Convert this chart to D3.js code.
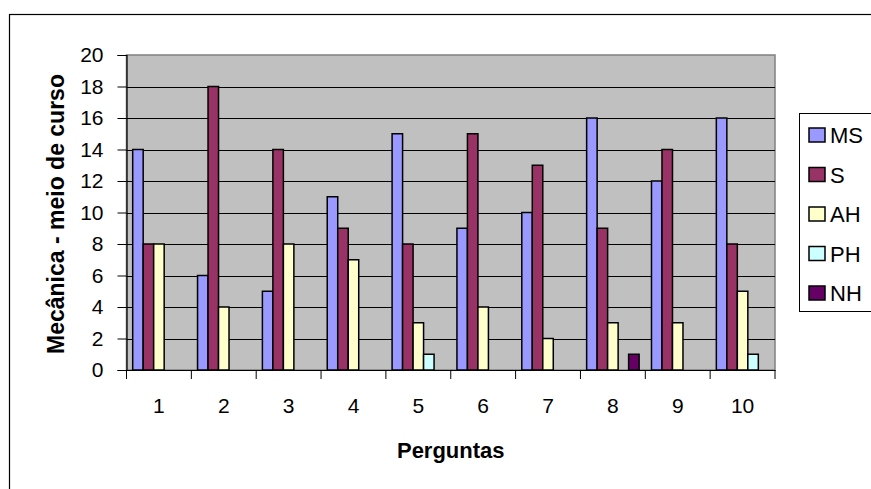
<!DOCTYPE html>
<html>
<head>
<meta charset="utf-8">
<script src="https://cdn.jsdelivr.net/npm/d3@7"></script>
<style>
  body { margin: 0; background: #fff; }
  text { font-family: "Liberation Sans", Arial, sans-serif; }
</style>
</head>
<body>
<div id="chart"></div>
<script>
// Data
const perguntas = ["1", "2", "3", "4", "5", "6", "7", "8", "9", "10"];
const seriesNames = ["MS", "S", "AH", "PH", "NH"];
const MS = [14, 6, 5, 11, 15, 9, 10, 16, 12, 16];
const S  = [8, 18, 14, 9, 8, 15, 13, 9, 14, 8];
const AH = [8, 4, 8, 7, 3, 4, 2, 3, 3, 5];
const PH = [0, 0, 0, 0, 1, 0, 0, 0, 0, 1];
const NH = [0, 0, 0, 0, 0, 0, 0, 1, 0, 0];
const yTicks = [0, 2, 4, 6, 8, 10, 12, 14, 16, 18, 20];

const seriesValues = [MS, S, AH, PH, NH];
const colors = ["#9999FF", "#993366", "#FFFFCC", "#CCFFFF", "#660066"];

const W = 871, H = 489;
const plot = { left: 126.5, right: 775, top: 55, bottom: 370 };

const svg = d3.select("#chart")
    .append("svg")
    .attr("width", W)
    .attr("height", H);

// outer chart frame
svg.append("rect")
    .attr("x", 9.5).attr("y", 14.5)
    .attr("width", W).attr("height", H)
    .attr("fill", "none")
    .attr("stroke", "#000")
    .attr("stroke-width", 1.2);

// scales
const x = d3.scaleBand()
    .domain(perguntas)
    .range([plot.left, plot.right])
    .paddingInner(0).paddingOuter(0);

const y = d3.scaleLinear()
    .domain([0, 20])
    .range([plot.bottom, plot.top]);

const gapRatio = 1.18;
const barW = x.bandwidth() / (seriesNames.length + gapRatio);
const xInner = d3.scaleBand()
    .domain(seriesNames)
    .range([barW * gapRatio / 2, barW * gapRatio / 2 + barW * seriesNames.length]);

// plot background
svg.append("rect")
    .attr("x", plot.left).attr("y", plot.top)
    .attr("width", plot.right - plot.left)
    .attr("height", plot.bottom - plot.top)
    .attr("fill", "#C0C0C0")
    .attr("stroke", "#808080")
    .attr("stroke-width", 1.5);

// gridlines
svg.append("g")
    .selectAll("line")
    .data(yTicks.filter(t => t > 0 && t < 20))
    .join("line")
    .attr("x1", plot.left).attr("x2", plot.right)
    .attr("y1", d => Math.round(y(d)) + 0.5)
    .attr("y2", d => Math.round(y(d)) + 0.5)
    .attr("stroke", "#000")
    .attr("stroke-width", 1.2);

// bars
const rows = perguntas.map((p, i) => ({ p, vals: seriesNames.map((s, j) => ({ s, j, v: seriesValues[j][i] })) }));

svg.append("g")
    .selectAll("g")
    .data(rows)
    .join("g")
    .attr("transform", d => `translate(${x(d.p)},0)`)
    .selectAll("rect")
    .data(d => d.vals.filter(b => b.v > 0))
    .join("rect")
    .attr("x", d => xInner(d.s))
    .attr("y", d => y(d.v))
    .attr("width", xInner.bandwidth())
    .attr("height", d => y(0) - y(d.v))
    .attr("fill", d => colors[d.j])
    .attr("stroke", "#000")
    .attr("stroke-width", 1.5);

// y axis
const yAxis = svg.append("g")
    .attr("transform", `translate(${plot.left},0)`)
    .call(d3.axisLeft(y).tickValues(yTicks).tickSize(9).tickPadding(14));
yAxis.select(".domain").attr("stroke", "#000").attr("stroke-width", 1.2);
yAxis.selectAll(".tick line").attr("stroke", "#000");
yAxis.selectAll("text")
    .attr("font-size", 21)
    .attr("fill", "#000")
    .attr("font-family", "Liberation Sans, Arial, sans-serif");

// x axis
const xAxis = svg.append("g")
    .attr("transform", `translate(0,${plot.bottom})`)
    .call(d3.axisBottom(x).tickSize(0).tickPadding(28));
xAxis.select(".domain").attr("stroke", "#000").attr("stroke-width", 1.2);
xAxis.selectAll("text")
    .attr("font-size", 21)
    .attr("fill", "#000")
    .attr("font-family", "Liberation Sans, Arial, sans-serif");

// category boundary ticks
svg.append("g")
    .selectAll("line")
    .data(perguntas.concat(["end"]))
    .join("line")
    .attr("x1", d => d === "end" ? plot.right : x(d))
    .attr("x2", d => d === "end" ? plot.right : x(d))
    .attr("y1", plot.bottom)
    .attr("y2", plot.bottom + 9)
    .attr("stroke", "#000");

// axis titles
svg.append("text")
    .attr("x", (plot.left + plot.right) / 2)
    .attr("y", 458)
    .style("text-anchor", "middle")
    .attr("font-weight", "bold")
    .attr("font-size", 22)
    .text("Perguntas");

svg.append("text")
    .attr("transform", `translate(64,214) rotate(-90)`)
    .style("text-anchor", "middle")
    .attr("font-weight", "bold")
    .attr("font-size", 23)
    .text("Mecânica - meio de curso");

// legend
const legend = svg.append("g");
legend.append("rect")
    .attr("x", 799.5).attr("y", 113.5)
    .attr("width", 80).attr("height", 198)
    .attr("fill", "#fff")
    .attr("stroke", "#000");

const items = legend.selectAll("g.item")
    .data(seriesNames)
    .join("g")
    .attr("class", "item")
    .attr("transform", (d, i) => `translate(809,${135 + i * 39.5})`);

items.append("rect")
    .attr("x", 0).attr("y", -7)
    .attr("width", 16).attr("height", 14)
    .attr("fill", (d, i) => colors[i])
    .attr("stroke", "#000")
    .attr("stroke-width", 1.5);

items.append("text")
    .attr("x", 21).attr("y", 8)
    .attr("font-size", 22)
    .text(d => d);
</script>
</body>
</html>
